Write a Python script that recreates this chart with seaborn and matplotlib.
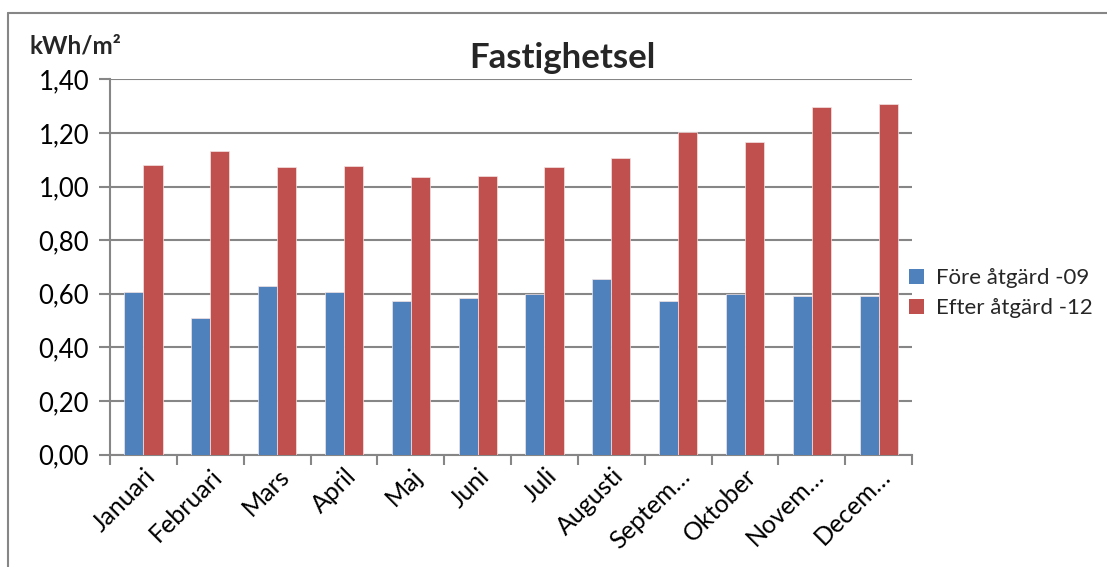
import matplotlib
matplotlib.use("Agg")
import matplotlib.pyplot as plt
import seaborn as sns
import pandas as pd
from matplotlib.lines import Line2D
from matplotlib.patches import Patch
from matplotlib.ticker import FixedLocator, FuncFormatter

# Monthly building electricity, kWh per m²
months = ["Januari", "Februari", "Mars", "April", "Maj", "Juni", "Juli",
          "Augusti", "Septem…", "Oktober", "Novem…", "Decem…"]
fore_09 = [0.606, 0.509, 0.629, 0.606, 0.573, 0.585, 0.598, 0.655, 0.573, 0.600, 0.593, 0.593]
efter_12 = [1.080, 1.132, 1.073, 1.078, 1.034, 1.039, 1.072, 1.105, 1.202, 1.166, 1.296, 1.307]
series_names = ["Före åtgärd -09", "Efter åtgärd -12"]
y_ticks = [0.0, 0.2, 0.4, 0.6, 0.8, 1.0, 1.2, 1.4]

colors = ["#4F81BD", "#C0504D"]
grid_col = "#868686"

df = pd.DataFrame({
    "Månad": months * 2,
    "Värde": fore_09 + efter_12,
    "Serie": [series_names[0]] * len(months) + [series_names[1]] * len(months),
})

sns.set_theme(style="white")
plt.rcParams["font.family"] = ["Lato", "DejaVu Sans"]

fig = plt.figure(figsize=(11.07, 5.67), dpi=100)
ax = fig.add_axes([0.0994, 0.1984, 0.7245, 0.6616])

sns.barplot(data=df, x="Månad", y="Värde", hue="Serie", palette=colors,
            saturation=1, width=0.57, ax=ax, legend=False,
            edgecolor="#f4e4e4", linewidth=0.5, zorder=3)

ax.set_ylim(0, 1.4)
ax.set_xlim(-0.5, len(months) - 0.5)
ax.yaxis.set_major_locator(FixedLocator(y_ticks))
ax.yaxis.set_major_formatter(FuncFormatter(lambda v, p: f"{v:.2f}".replace(".", ",")))
ax.grid(axis="y", color=grid_col, linewidth=1.5, zorder=0)
ax.set_axisbelow(True)

for s in ["top", "right"]:
    ax.spines[s].set_visible(False)
for s in ["left", "bottom"]:
    ax.spines[s].set_color(grid_col)
    ax.spines[s].set_linewidth(1.5)

ax.tick_params(axis="y", which="major", left=True, length=8, width=1.5,
               color=grid_col, labelsize=18.5, pad=7, labelcolor="black")
# Category ticks sit between the groups
ax.xaxis.set_minor_locator(FixedLocator([i + 0.5 for i in range(-1, len(months))]))
ax.tick_params(axis="x", which="minor", bottom=True, length=7, width=1.5, color=grid_col)
ax.tick_params(axis="x", which="major", bottom=False, length=0, labelsize=18, pad=7,
               labelcolor="black")
ax.set_xticks(range(len(months)))
ax.set_xticklabels(months, rotation=45, ha="right", rotation_mode="anchor")
ax.set_xlabel("")
ax.set_ylabel("")

fig.text(0.508, 0.897, "Fastighetsel", ha="center", va="center",
         fontsize=25, fontweight="bold")
fig.text(0.027, 0.919, "kWh/m²", ha="left", va="center",
         fontsize=17.5, fontweight="bold")

handles = [Patch(facecolor=c, edgecolor="none") for c in colors]
fig.legend(handles, series_names, loc="center left", bbox_to_anchor=(0.807, 0.483),
           frameon=False, fontsize=16, handlelength=0.7, handleheight=0.7,
           handletextpad=0.5, labelspacing=0.45, borderpad=0.2)

# Chart-area frame (top and left edges)
fig.add_artist(Line2D([7.5 / 1107, 1.0], [1 - 13 / 567, 1 - 13 / 567],
                      color=grid_col, linewidth=1.5, transform=fig.transFigure))
fig.add_artist(Line2D([7.5 / 1107, 7.5 / 1107], [0.0, 1 - 13 / 567],
                      color=grid_col, linewidth=1.5, transform=fig.transFigure))

fig.savefig("out.png", dpi=100)
